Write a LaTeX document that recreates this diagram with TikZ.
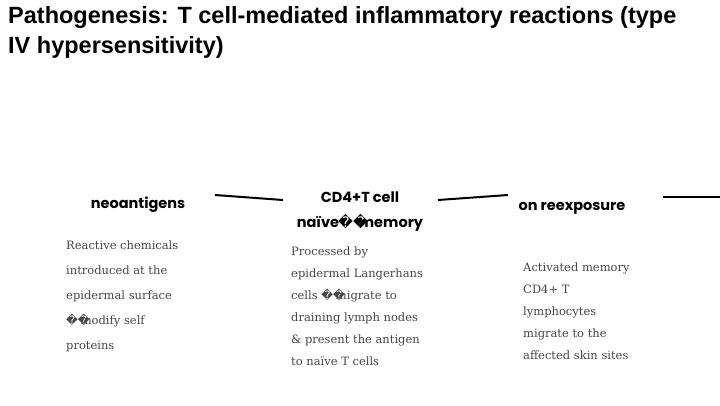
\documentclass[tikz,border=0pt]{standalone}
\usepackage{fontspec}
\setmainfont{DejaVu Serif}
\newfontfamily\ttlfont{Liberation Sans}
\newfontfamily\hdfont{Poppins}
\newfontfamily\djfont{DejaVu Sans}
\definecolor{txt}{RGB}{70,70,70}
\begin{document}
\begin{tikzpicture}[x=1pt,y=-1pt,
 head/.style={font=\hdfont\bfseries\fontsize{14.5}{16}\selectfont,anchor=base,inner sep=0},
 body/.style={font=\fontsize{11.5}{22}\selectfont,text=txt,anchor=north west,align=left,inner sep=0},
 conn/.style={line width=2pt}]
\useasboundingbox (0,0) rectangle (720,405);
\node[font=\ttlfont\bfseries\fontsize{23.5}{30}\selectfont,anchor=north west,align=left,inner sep=0] (title) at (8,6) {Pathogenesis: T cell-mediated inflammatory reactions (type\\IV hypersensitivity)};
\node[head] (h1) at (138,208) {neoantigens};
\node[head] (h2) at (360,202) {CD4+T cell};
\node[head] (h2b) at (360,227) {naïve{\djfont\mdseries\kern-1pt ��\kern-9pt}memory};
\node[head] (h3) at (572,210) {on reexposure};
\coordinate (e1) at (215,195); \coordinate (e2) at (283,200);
\coordinate (e3) at (438,200); \coordinate (e4) at (508,195);
\coordinate (e5) at (663,197); \coordinate (e6) at (720,197);
\draw[conn] (e1) -- (e2); \draw[conn] (e3) -- (e4); \draw[conn] (e5) -- (e6);
\node[body,font=\fontsize{11.5}{25}\selectfont] (b1) at (66,241) {Reactive chemicals\\introduced at the\\epidermal surface\\{\djfont ��\kern-9pt}modify self\\proteins};
\node[body] (b2) at (291,247) {Processed by\\epidermal Langerhans\\cells {\djfont ��\kern-9pt}migrate to\\draining lymph nodes\\\& present the antigen\\to naïve T cells};
\node[body] (b3) at (523,263) {Activated memory\\CD4+ T\\lymphocytes\\migrate to the\\affected skin sites};
\end{tikzpicture}
\end{document}
